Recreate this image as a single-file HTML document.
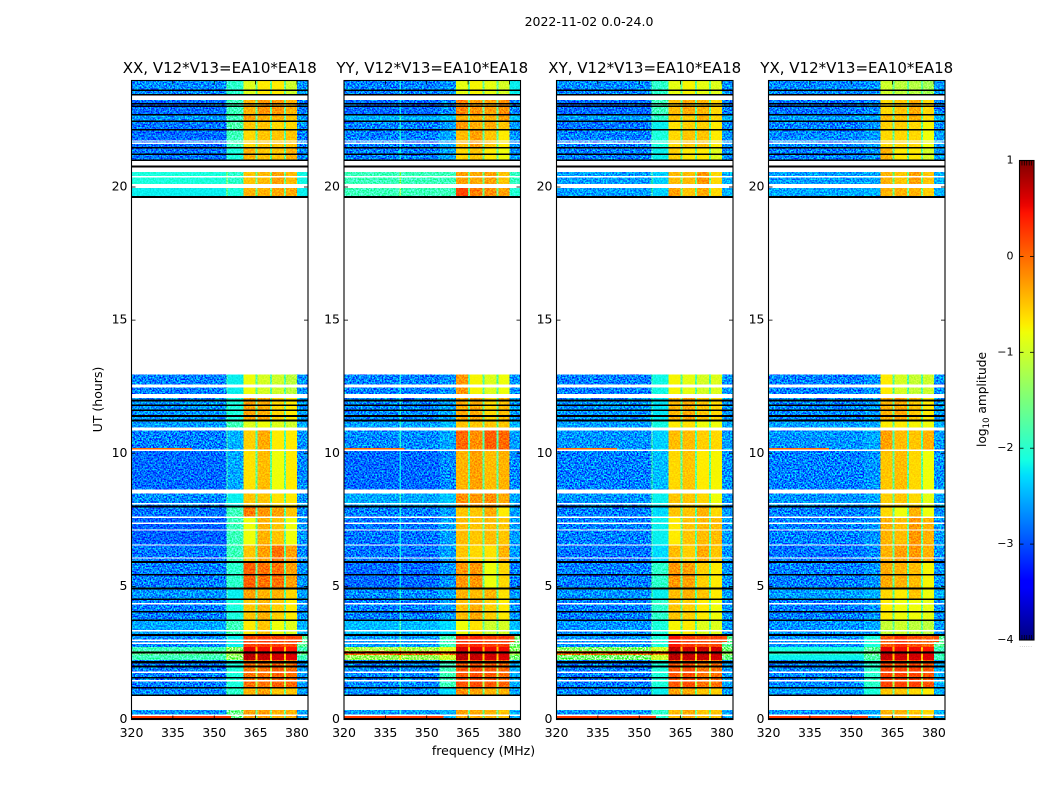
<!DOCTYPE html>
<html lang="en">
<head>
<meta charset="utf-8">
<title>2022-11-02 0.0-24.0</title>
<style>
html,body{margin:0;padding:0;background:#fff;width:1050px;height:800px;overflow:hidden}
svg{display:block}
text{font-family:"DejaVu Sans","Liberation Sans",sans-serif;fill:#000}
</style>
</head>
<body>
<svg id="chart" xmlns="http://www.w3.org/2000/svg" width="1050" height="800" viewBox="0 0 1050 800">
<defs>
<filter id="speckle" x="0" y="0" width="100%" height="100%" color-interpolation-filters="sRGB">
<feTurbulence type="fractalNoise" baseFrequency="0.62" numOctaves="2" seed="7"/>
<feColorMatrix type="matrix" values="2.6 0 0 0 -0.8  2.6 0 0 0 -0.8  2.6 0 0 0 -0.8  0 0 0 0 1"/>
</filter>
<linearGradient id="jet-gradient" x1="0" y1="1" x2="0" y2="0"></linearGradient>
</defs>
<text x="589" y="26" font-size="12.5" text-anchor="middle">2022-11-02 0.0-24.0</text>
<text x="0" y="0" font-size="12.5" text-anchor="middle" transform="translate(102,399.5) rotate(-90)">UT (hours)</text>
<text x="483.5" y="755" font-size="12.5" text-anchor="middle">frequency (MHz)</text>
<text x="0" y="0" font-size="12.2" text-anchor="middle" transform="translate(986,399.5) rotate(-90)">log<tspan font-size="8.5" dy="3">10</tspan><tspan dy="-3"> amplitude</tspan></text>
<g id="panels"></g>
<g id="colorbar"></g>
</svg>
<script>
// Chart data --------------------------------------------------------------
const panelTitles = ["XX, V12*V13=EA10*EA18", "YY, V12*V13=EA10*EA18", "XY, V12*V13=EA10*EA18", "YX, V12*V13=EA10*EA18"];
const xTicks = [320, 335, 350, 365, 380];
const yTicks = [0, 5, 10, 15, 20];
const colorTicks = [1, 0, -1, -2, -3, -4];
const colorTickLabels = ["1", "0", "\u22121", "\u22122", "\u22123", "\u22124"];

// row boundaries in hours, top to bottom
const rowEdges = [24, 23.44, 22.73, 22.47, 22.17, 21.49, 21.0, 20.11, 19.62, 12.2, 12.08, 11.19, 10.85, 10.14, 8.56, 7.96, 7.63, 6.54, 5.90, 4.93, 4.48, 3.73, 3.17, 2.72, 2.57, 2.42, 2.23, 1.18, 0.36, 0];
// band boundaries in MHz; bandColumns maps each band to a level column (g = gap between sub-bands)
const bandEdges = [320, 354.7, 360.6, 365, 365.7, 370.3, 371, 375.3, 376, 380, 384];
const bandColumns = [0, 1, 2, "g", 3, "g", 4, "g", 5, 6];
const gapLevels = [-1.7,-1.7,-1.7,-1.7,-1.7,-1.7,-1.6,-1.6,-1.8,-1.7,-1.7,-1.7,-1.8,-1.7,-1.7,-1.7,-1.7,-1.7,-1.7,-1.7,-1.7,-1.7,0.0,-0.5,-0.4,-0.5,-1.2,-1.6,-1.6];

// log10 amplitude: low, mid, b1, b2, b3, b4, high for each row
const xxLevels = [
[-2.7,-2.0,-0.9,-0.7,-0.7,-1.0,-2.65],[-2.85,-1.9,-0.4,-0.25,-0.25,-0.4,-2.75],[-2.65,-1.9,-0.3,-0.4,-0.4,-0.5,-2.6],[-2.8,-1.8,-0.5,-0.5,-0.6,-0.6,-2.7],
[-2.85,-1.9,-0.6,-0.5,-0.5,-0.5,-2.75],[-2.8,-2.1,-0.4,-0.5,-0.5,-0.4,-2.7],[-2.1,-2.0,-0.5,-0.45,-0.3,-0.45,-2.15],[-2.2,-2.1,-0.4,-0.4,-0.35,-0.35,-2.2],
[-2.75,-2.2,-0.8,-0.95,-1.0,-1.1,-2.65],[-2.75,-2.2,-0.8,-0.95,-1.0,-1.1,-2.65],[-2.65,-2.1,-0.3,-0.35,-0.6,-0.7,-2.6],[-2.6,-1.9,-0.9,-0.8,-0.9,-1.0,-2.55],
[-2.75,-2.5,-0.55,-0.35,-0.7,-0.7,-2.65],[-2.85,-2.55,-0.65,-0.45,-0.8,-0.7,-2.7],[-2.7,-2.2,-0.5,-0.5,-0.65,-0.7,-2.65],[-2.8,-1.9,-0.1,-0.25,-0.3,-0.5,-2.7],
[-2.9,-1.9,-0.8,-0.4,-0.5,-0.8,-2.65],[-2.8,-1.9,-0.5,-0.3,-0.05,-0.3,-2.7],[-2.75,-2.0,0.05,-0.05,-0.05,-0.3,-2.65],[-2.65,-2.2,-0.3,-0.4,-0.4,-0.6,-2.6],
[-2.75,-2.1,-0.5,-0.4,-0.55,-0.7,-2.65],[-2.55,-1.9,-0.7,-0.5,-0.8,-0.9,-2.5],[-2.7,-2.2,0.2,0.25,0.2,0.2,-1.7],[-1.9,-1.4,0.55,0.5,0.5,0.45,-1.9],
[-1.7,-1.2,0.8,0.75,0.7,0.7,-1.6],[-1.9,-1.4,0.75,0.7,0.65,0.6,-1.9],[-2.75,-2.1,-0.05,-0.05,0.05,0,-2.6],[-2.7,-2.0,-0.4,-0.3,-0.5,-0.5,-2.6],[-2.65,-1.6,-0.3,-0.3,-0.4,-0.4,-2.55]];
const yyLevels = [
[-2.75,-2.65,-0.85,-0.75,-0.85,-0.95,-2.2],[-2.85,-2.7,-0.15,-0.25,-0.3,-0.2,-2.7],[-2.5,-2.4,-0.4,-0.4,-0.4,-0.3,-2.4],[-2.75,-2.6,-0.25,-0.35,-0.35,-0.5,-2.65],
[-2.75,-2.55,-0.45,-0.3,-0.5,-0.7,-2.65],[-2.75,-2.55,-0.6,-0.5,-0.7,-0.8,-2.65],[-1.9,-1.9,-0.3,-0.35,-0.3,-0.5,-1.95],[-1.9,-1.9,0.2,-0.1,-0.2,-0.3,-2.05],
[-2.75,-2.65,-0.25,-0.75,-0.9,-0.8,-2.65],[-2.75,-2.65,-0.25,-0.75,-0.9,-0.8,-2.65],[-2.7,-2.55,-0.35,-0.35,-0.6,-0.45,-2.6],[-2.6,-2.45,-0.5,-0.5,-0.5,-0.5,-2.5],
[-2.7,-2.55,0.0,-0.2,0.05,0.0,-2.6],[-2.85,-2.7,-0.4,-0.3,-0.45,-0.4,-2.7],[-2.55,-2.4,-0.2,-0.25,-0.2,-0.35,-2.55],[-2.75,-2.6,-0.5,-0.5,-0.35,-0.7,-2.6],
[-2.8,-2.6,-0.45,-0.5,-0.45,-0.5,-2.6],[-2.8,-2.6,-0.5,-0.6,-0.65,-0.4,-2.6],[-2.85,-2.65,-0.25,-0.25,-0.8,-0.6,-2.75],[-2.7,-2.55,-0.4,-0.45,-0.4,-0.65,-2.6],
[-2.75,-2.6,-0.45,-0.35,-0.55,-0.7,-2.65],[-2.45,-2.3,-0.8,-0.65,-1.0,-0.95,-2.45],[-2.6,-1.9,0.3,0.35,0.25,0.25,-1.5],[-1.2,-0.9,0.6,0.55,0.5,0.5,-1.4],
[-0.05,-0.1,0.8,0.75,0.7,0.65,-1.2],[-1.3,-1.0,0.75,0.7,0.65,0.6,-1.5],[-2.7,-1.9,0.1,0.15,0.1,0,-2.5],[-2.65,-2.3,-0.2,-0.3,-0.4,-0.4,-2.55],[-2.6,-2.5,-0.3,-0.35,-0.4,-0.5,-2.5]];
const xyLevels = [
[-2.7,-2.0,-0.85,-0.75,-0.85,-0.9,-2.65],[-2.85,-1.9,-0.45,-0.35,-0.4,-0.6,-2.75],[-2.6,-2.0,-0.5,-0.55,-0.4,-0.6,-2.5],[-2.8,-2.2,-0.65,-0.55,-0.55,-0.7,-2.7],
[-2.75,-2.1,-0.6,-0.5,-0.5,-0.7,-2.65],[-2.75,-2.2,-0.55,-0.7,-0.7,-0.9,-2.65],[-2.6,-2.35,-0.45,-0.45,-0.25,-0.6,-2.5],[-2.6,-2.35,-0.3,-0.5,-0.35,-0.6,-2.5],
[-2.75,-2.15,-0.75,-0.85,-0.95,-0.9,-2.65],[-2.75,-2.15,-0.75,-0.85,-0.95,-0.9,-2.65],[-2.65,-2.25,-0.4,-0.35,-0.5,-0.6,-2.6],[-2.6,-2.15,-0.7,-0.65,-0.8,-0.8,-2.55],
[-2.65,-2.35,-0.45,-0.45,-0.55,-0.6,-2.6],[-2.75,-2.45,-0.6,-0.5,-0.7,-0.75,-2.65],[-2.65,-2.2,-0.5,-0.5,-0.6,-0.8,-2.6],[-2.75,-2.3,-0.5,-0.5,-0.4,-0.6,-2.6],
[-2.75,-2.2,-0.7,-0.5,-0.45,-0.45,-2.6],[-2.8,-2.3,-0.45,-0.55,-0.35,-0.5,-2.65],[-2.75,-2.0,-0.25,-0.3,-0.55,-0.7,-2.65],[-2.65,-2.2,-0.45,-0.4,-0.5,-0.7,-2.6],
[-2.75,-2.0,-0.5,-0.55,-0.7,-0.8,-2.65],[-2.65,-2.1,-0.75,-0.7,-0.9,-0.9,-2.6],[-2.65,-2.1,0.45,0.25,0.2,0.2,-1.7],[-1.4,-1.0,0.7,0.65,0.7,0.65,-1.5],
[-0.1,-0.2,0.85,0.8,0.8,0.75,-1.3],[-1.5,-1.0,0.75,0.7,0.7,0.65,-1.6],[-2.75,-2.1,0.1,0.15,-0.05,-0.05,-2.6],[-2.7,-2.2,-0.3,-0.35,-0.5,-0.55,-2.6],[-2.65,-2.0,-0.45,-0.35,-0.5,-0.5,-2.55]];
const yxLevels = [
[-2.7,-2.65,-1.0,-1.1,-1.15,-1.25,-2.6],[-2.8,-2.7,-0.6,-0.5,-0.35,-0.6,-2.75],[-2.6,-2.55,-0.45,-0.5,-0.4,-0.65,-2.5],[-2.75,-2.65,-0.55,-0.55,-0.6,-0.75,-2.65],
[-2.7,-2.6,-0.6,-0.6,-0.6,-0.8,-2.6],[-2.75,-2.65,-0.4,-0.7,-0.7,-0.95,-2.6],[-2.6,-2.55,-0.4,-0.5,-0.3,-0.5,-2.5],[-2.55,-2.5,-0.4,-0.4,-0.4,-0.55,-2.5],
[-2.75,-2.65,-0.7,-0.95,-1.05,-1.0,-2.65],[-2.75,-2.65,-0.7,-0.95,-1.05,-1.0,-2.65],[-2.7,-2.6,-0.4,-0.35,-0.5,-0.7,-2.6],[-2.6,-2.55,-0.7,-0.7,-0.75,-0.8,-2.5],
[-2.65,-2.55,-0.3,-0.45,-0.5,-0.4,-2.6],[-2.75,-2.65,-0.5,-0.45,-0.6,-0.8,-2.65],[-2.65,-2.55,-0.55,-0.5,-0.6,-0.85,-2.55],[-2.75,-2.65,-0.6,-0.8,-0.4,-0.8,-2.65],
[-2.75,-2.65,-0.4,-0.45,-0.25,-0.4,-2.6],[-2.8,-2.7,-0.4,-0.3,-0.25,-0.4,-2.65],[-2.75,-2.65,-0.35,-0.4,-0.45,-0.75,-2.65],[-2.6,-2.5,-0.6,-0.7,-0.5,-0.8,-2.5],
[-2.75,-2.65,-0.7,-0.8,-0.8,-0.85,-2.65],[-2.65,-2.55,-1.05,-1.0,-1.1,-1.1,-2.6],[-2.65,-2.1,0.1,0.3,0.15,0.05,-1.7],[-2.1,-1.7,0.55,0.5,0.5,0.45,-1.9],
[-2.0,-1.6,0.75,0.7,0.65,0.6,-1.9],[-2.2,-1.8,0.7,0.65,0.65,0.6,-1.9],[-2.7,-2.0,0.2,0.2,0.2,0.1,-2.5],[-2.6,-2.1,-0.5,-0.5,-0.6,-0.7,-2.5],[-2.65,-2.55,-0.4,-0.4,-0.5,-0.6,-2.5]];
const panelLevels = [xxLevels, yyLevels, xyLevels, yxLevels];

// narrow interference features: single-channel line per panel
const lineFreqs = [354.4, 340.2, 354.4, null];
const lineBoosts = [1.0, 0.6, 1.0, 0];
// [start hour, end hour, start MHz, end MHz, level]
const rfiFeatures = [
  [10.2, 10.14, 320, 342, 0.0],
  [0.13, 0.06, 320, 356, 0.25],
  [3.15, 2.92, 380, 381.8, 0.15]
];
// flagged time ranges [start hour, end hour]
const whiteFlags = [[23.43,23.26],[21.75,21.70],[21.67,21.62],[20.97,20.78],[20.75,20.56],[20.41,20.36],[20.12,19.96],[19.60,12.95],[12.58,12.53],[12.52,12.47],[12.22,12.07],[10.96,10.85],[10.14,10.09],[8.64,8.55],[8.54,8.49],[8.13,8.08],[7.63,7.57],[7.40,7.35],[7.14,7.09],[6.58,6.53],[6.09,6.04],[4.37,4.32],[3.36,3.31],[3.00,2.95],[2.89,2.84],[1.80,1.75],[1.48,1.43],[0.89,0.36],[0.19,0.14]];
const blackFlags = [[23.66,23.60],[23.50,23.44],[23.16,23.10],[23.06,23.00],[22.74,22.68],[22.50,22.44],[22.18,22.12],[21.51,21.45],[21.26,21.20],[21.04,20.98],[20.80,20.74],[19.67,19.59],[12.02,11.94],[11.84,11.78],[11.65,11.59],[11.43,11.37],[11.26,11.20],[8.04,7.96],[5.95,5.87],[5.46,5.40],[4.96,4.88],[4.54,4.48],[4.08,4.02],[3.76,3.70],[3.22,3.14],[2.55,2.47],[2.19,2.11],[2.02,1.96],[1.60,1.54],[1.22,1.16],[0.94,0.88],[0.05,0]];

// Layout and scales -------------------------------------------------------
const NS = "http://www.w3.org/2000/svg";
const panelLefts = [131.5, 344, 556.5, 768.5];
const panelWidth = 176.5;
const plotTop = 80.5;
const plotBottom = 719.5;
const timeMax = 24;
const freqMin = 320;
const freqMax = 384;
function xScale(left, f) { return left + (f - freqMin) / (freqMax - freqMin) * panelWidth; }
function yScale(t) { return plotBottom - t / timeMax * (plotBottom - plotTop); }
function interp(pts, v) {
  for (let i = 1; i < pts.length; i++) {
    if (v <= pts[i][0]) {
      const a = pts[i - 1], b = pts[i];
      return a[1] + (b[1] - a[1]) * (v - a[0]) / (b[0] - a[0]);
    }
  }
  return pts[pts.length - 1][1];
}
const jetRed = [[0,0],[0.35,0],[0.66,1],[0.89,1],[1,0.5]];
const jetGreen = [[0,0],[0.125,0],[0.375,1],[0.64,1],[0.91,0],[1,0]];
const jetBlue = [[0,0.5],[0.11,1],[0.34,1],[0.65,0],[1,0]];
function jetAt(u) {
  const c = Math.max(0, Math.min(1, u));
  return "rgb(" + Math.round(interp(jetRed, c) * 255) + "," + Math.round(interp(jetGreen, c) * 255) + "," + Math.round(interp(jetBlue, c) * 255) + ")";
}
function colorScale(v) { return jetAt((v + 4) / 5); }
function shape(tag, parent, attrs) {
  const el = document.createElementNS(NS, tag);
  for (const k in attrs) el.setAttribute(k, attrs[k]);
  parent.appendChild(el);
  return el;
}
function fillBox(parent, left, t0, t1, f0, f1, fill) {
  const x0 = xScale(left, f0), x1 = xScale(left, f1), y0 = yScale(t0), y1 = yScale(t1);
  return shape("rect", parent, { x: x0, y: y0, width: x1 - x0, height: Math.max(y1 - y0, 0.5), fill: fill, "shape-rendering": "crispEdges" });
}

// Panels ------------------------------------------------------------------
const panelsRoot = document.getElementById("panels");
panelTitles.forEach(function (title, p) {
  const left = panelLefts[p];
  const levels = panelLevels[p];
  const panel = shape("g", panelsRoot, {});
  
  

  const heat = shape("g", panel, { style: "isolation:isolate" });
  
  

  levels.forEach(function (row, r) {
    const t0 = rowEdges[r], t1 = rowEdges[r + 1];
    bandColumns.forEach(function (col, b) {
      const value = col === "g" ? gapLevels[r] : row[col];
      const cell = fillBox(heat, left, t0, t1, bandEdges[b], bandEdges[b + 1], colorScale(value));
      
      
    });
    if (lineFreqs[p] !== null) {
      const lineCell = fillBox(heat, left, t0, t1, lineFreqs[p], lineFreqs[p] + 0.4, colorScale(row[0] + lineBoosts[p]));
      
      
    }
  });

  // speckle texture
  const lowTexture = shape("rect", heat, { x: left, y: plotTop, width: xScale(left, 360.6) - left, height: plotBottom - plotTop, filter: "url(#speckle)", style: "mix-blend-mode:overlay" });
  
  
  const midTexture = shape("rect", heat, { x: xScale(left, 360.6), y: plotTop, width: xScale(left, 380) - xScale(left, 360.6), height: plotBottom - plotTop, filter: "url(#speckle)", opacity: 0.45, style: "mix-blend-mode:overlay" });
  
  
  const highTexture = shape("rect", heat, { x: xScale(left, 380), y: plotTop, width: xScale(left, 384) - xScale(left, 380), height: plotBottom - plotTop, filter: "url(#speckle)", style: "mix-blend-mode:overlay" });
  
  

  rfiFeatures.forEach(function (item) {
    const rfi = fillBox(panel, left, item[0], item[1], item[2], item[3], colorScale(item[4]));
    
    
  });
  whiteFlags.forEach(function (fl) {
    const w = fillBox(panel, left, fl[0], fl[1], freqMin, freqMax, "#fff");
    
    
  });
  blackFlags.forEach(function (fl) {
    const k = fillBox(panel, left, fl[0], fl[1], freqMin, freqMax, "#000");
    
    
  });

  const frame = shape("rect", panel, { x: left, y: plotTop, width: panelWidth, height: plotBottom - plotTop, fill: "none", stroke: "#000", "stroke-width": 1.1 });
  
  

  xTicks.forEach(function (f) {
    const x = xScale(left, f);
    const b = shape("line", panel, { x1: x, x2: x, y1: plotBottom, y2: plotBottom - 4, stroke: "#000", "stroke-width": 0.8 });
    
    
    const tp = shape("line", panel, { x1: x, x2: x, y1: plotTop, y2: plotTop + 4, stroke: "#000", "stroke-width": 0.8 });
    
    
    const lab = shape("text", panel, { x: x, y: 737, "font-size": 12.5, "text-anchor": "middle" });
    lab.textContent = String(f);
    
    
  });
  yTicks.forEach(function (t) {
    const y = yScale(t);
    const l = shape("line", panel, { x1: left, x2: left + 4, y1: y, y2: y, stroke: "#000", "stroke-width": 0.8 });
    
    
    const rt = shape("line", panel, { x1: left + panelWidth, x2: left + panelWidth - 4, y1: y, y2: y, stroke: "#000", "stroke-width": 0.8 });
    
    
    const lab = shape("text", panel, { x: left - 4, y: y + 3.5, "font-size": 12.5, "text-anchor": "end" });
    lab.textContent = String(t);
    
    
  });
  const ttl = shape("text", panel, { x: left + panelWidth / 2, y: 73, "font-size": 15, "text-anchor": "middle" });
  ttl.textContent = title;
  
  
});

// Colorbar ----------------------------------------------------------------
const grad = document.getElementById("jet-gradient");
for (let i = 0; i <= 64; i++) {
  shape("stop", grad, { offset: (i / 64), "stop-color": jetAt(i / 64) });
}
const cbLeft = 1019.5, cbRight = 1034, cbTop = 160.5, cbBottom = 640;
function cbScale(v) { return cbBottom - (v + 4) / 5 * (cbBottom - cbTop); }
const cbRoot = document.getElementById("colorbar");
const cbFill = shape("rect", cbRoot, { x: cbLeft, y: cbTop, width: cbRight - cbLeft, height: cbBottom - cbTop, fill: "url(#jet-gradient)", stroke: "#000", "stroke-width": 1.1 });


colorTicks.forEach(function (v, i) {
  const y = cbScale(v);
  if (i > 0 && i < colorTicks.length - 1) {
    const a = shape("line", cbRoot, { x1: cbLeft, x2: cbLeft + 4, y1: y, y2: y, stroke: "#000", "stroke-width": 0.8 });
    
    
    const b = shape("line", cbRoot, { x1: cbRight, x2: cbRight - 4, y1: y, y2: y, stroke: "#000", "stroke-width": 0.8 });
    
    
  }
  const lab = shape("text", cbRoot, { x: 1013.5, y: y + 3, "font-size": 11, "text-anchor": "end" });
  lab.textContent = colorTickLabels[i];
  
  
});
[0.17, 0.33, 0.5, 0.67, 0.83].forEach(function (frac) {
  const x = cbLeft + frac * (cbRight - cbLeft);
  const up = shape("line", cbRoot, { x1: x, x2: x, y1: cbTop, y2: cbTop + 5, stroke: "#000", "stroke-width": 0.7 });
  
  
  const dn = shape("line", cbRoot, { x1: x, x2: x, y1: cbBottom, y2: cbBottom - 5, stroke: "#000", "stroke-width": 0.7 });
  
  
});
const cbDots = shape("text", cbRoot, { x: 1026, y: 647, "font-size": 5, "text-anchor": "middle", style: "fill:#888;letter-spacing:0.6px" });
cbDots.textContent = "......";


</script>
</body>
</html>
